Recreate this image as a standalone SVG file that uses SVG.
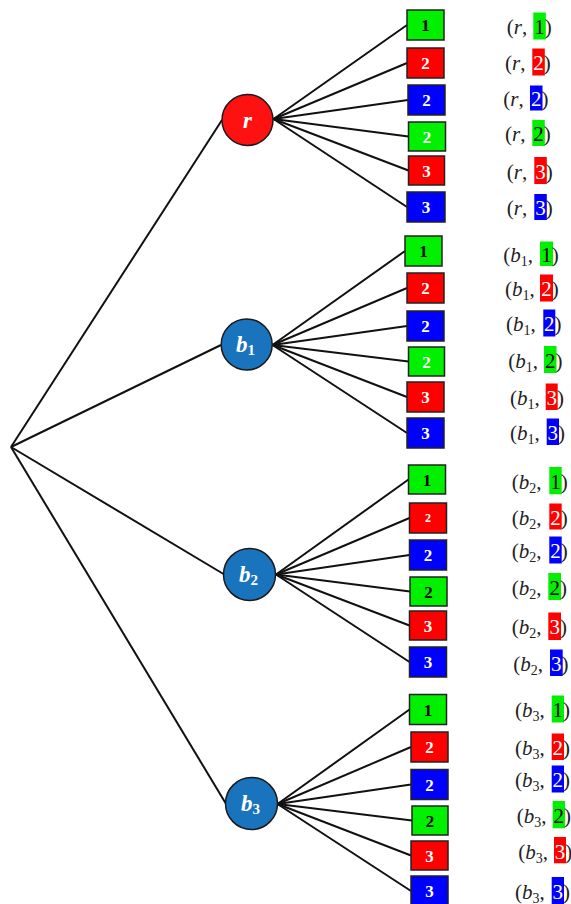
<svg xmlns="http://www.w3.org/2000/svg" width="571" height="904" viewBox="0 0 571 904">
<style>
.bg{fill:#fff}
.ln{stroke:#111;stroke-width:2;fill:none}
.cr{fill:#fe1111;stroke:#1a1a1a;stroke-width:1.5}
.cb{fill:#1a74bd;stroke:#1a1a1a;stroke-width:1.5}
.ct{font-family:"Liberation Serif",serif;font-weight:bold;font-style:italic;font-size:23px;fill:#fff}
.cs{font-style:normal;font-size:15px}
.G{fill:#00f000}
.R{fill:#ff0000}
.B{fill:#0000ff}
.bx{stroke:#222;stroke-width:1.5}
.d{font-family:"Liberation Serif",serif;font-weight:bold;font-size:17px;text-anchor:middle}
.k{fill:#000}
.w{fill:#fff}
.lab{font-family:"Liberation Serif",serif;font-size:21px;fill:#222}
.it{font-style:italic}
.sub{font-size:14px}
.hd{text-anchor:middle}
</style>
<rect class="bg" x="0" y="0" width="571" height="904"/>
<g id="connectors">
<line class="ln" x1="11" y1="447" x2="222" y2="120"/>
<line class="ln" x1="11" y1="447" x2="221" y2="345"/>
<line class="ln" x1="11" y1="447" x2="223.5" y2="574"/>
<line class="ln" x1="11" y1="447" x2="225.5" y2="803"/>
<line class="ln" x1="273.5" y1="119" x2="407" y2="25"/>
<line class="ln" x1="273.5" y1="119" x2="407" y2="63"/>
<line class="ln" x1="273.5" y1="119" x2="408" y2="100"/>
<line class="ln" x1="273.5" y1="119" x2="408.5" y2="136.5"/>
<line class="ln" x1="273.5" y1="119" x2="408.5" y2="170.5"/>
<line class="ln" x1="273.5" y1="119" x2="407" y2="207"/>
<line class="ln" x1="272.5" y1="345" x2="405" y2="251"/>
<line class="ln" x1="272.5" y1="345" x2="407" y2="288"/>
<line class="ln" x1="272.5" y1="345" x2="407" y2="326"/>
<line class="ln" x1="272.5" y1="345" x2="408.5" y2="361.5"/>
<line class="ln" x1="272.5" y1="345" x2="407" y2="397"/>
<line class="ln" x1="272.5" y1="345" x2="407" y2="433"/>
<line class="ln" x1="276" y1="574.5" x2="408.5" y2="479.5"/>
<line class="ln" x1="276" y1="574.5" x2="409.5" y2="518"/>
<line class="ln" x1="276" y1="574.5" x2="409.5" y2="555"/>
<line class="ln" x1="276" y1="574.5" x2="410" y2="591.5"/>
<line class="ln" x1="276" y1="574.5" x2="409.5" y2="625.5"/>
<line class="ln" x1="276" y1="574.5" x2="409.5" y2="662"/>
<line class="ln" x1="277.5" y1="804" x2="409.5" y2="709.5"/>
<line class="ln" x1="277.5" y1="804" x2="411" y2="747"/>
<line class="ln" x1="277.5" y1="804" x2="411" y2="784.5"/>
<line class="ln" x1="277.5" y1="804" x2="412" y2="820.5"/>
<line class="ln" x1="277.5" y1="804" x2="411" y2="855.5"/>
<line class="ln" x1="277.5" y1="804" x2="411" y2="891"/>
</g>
<g id="node-r"><circle class="cr" cx="247.5" cy="120" r="25.5"/><text class="ct hd" x="247.5" y="128">r</text></g>
<g id="node-b1"><circle class="cb" cx="246.7" cy="344.5" r="25.5"/><text class="ct" x="236" y="352">b<tspan class="cs" dy="3">1</tspan></text></g>
<g id="node-b2"><circle class="cb" cx="249.5" cy="574.5" r="26"/><text class="ct" x="239" y="582">b<tspan class="cs" dy="3">2</tspan></text></g>
<g id="node-b3"><circle class="cb" cx="251.5" cy="803.5" r="26"/><text class="ct" x="241" y="811">b<tspan class="cs" dy="3">3</tspan></text></g>

<g id="r-1"><rect class="bx G" x="407" y="10" width="37" height="30"/><text class="d k" x="425.5" y="31">1</text></g>
<g id="r-2r"><rect class="bx R" x="407" y="48" width="37" height="30"/><text class="d w" x="425.5" y="69">2</text></g>
<g id="r-2b"><rect class="bx B" x="408" y="85" width="37" height="30"/><text class="d w" x="426.5" y="106">2</text></g>
<g id="r-2g"><rect class="bx G" x="408.5" y="122" width="37" height="29"/><text class="d w" x="427" y="142.5">2</text></g>
<g id="r-3r"><rect class="bx R" x="408.5" y="156" width="36" height="29"/><text class="d w" x="426.5" y="176.5">3</text></g>
<g id="r-3b"><rect class="bx B" x="407" y="192" width="38" height="30"/><text class="d w" x="426" y="213">3</text></g>

<g id="b1-1"><rect class="bx G" x="405" y="236" width="37" height="30"/><text class="d k" x="423.5" y="257">1</text></g>
<g id="b1-2r"><rect class="bx R" x="407" y="273" width="37" height="30"/><text class="d w" x="425.5" y="294">2</text></g>
<g id="b1-2b"><rect class="bx B" x="407" y="311" width="37" height="30"/><text class="d w" x="425.5" y="332">2</text></g>
<g id="b1-2g"><rect class="bx G" x="408.5" y="347" width="36" height="29"/><text class="d w" x="426.5" y="367.5">2</text></g>
<g id="b1-3r"><rect class="bx R" x="407" y="382" width="37" height="30"/><text class="d w" x="425.5" y="403">3</text></g>
<g id="b1-3b"><rect class="bx B" x="407" y="418" width="37" height="30"/><text class="d w" x="425.5" y="439">3</text></g>

<g id="b2-1"><rect class="bx G" x="408.5" y="465" width="37" height="29"/><text class="d k" x="427" y="485.5">1</text></g>
<g id="b2-2r"><rect class="bx R" x="409.5" y="503" width="37" height="30"/><text class="d w" x="428" y="522" style="font-size:12px">2</text></g>
<g id="b2-2b"><rect class="bx B" x="409.5" y="540" width="37" height="30"/><text class="d w" x="428" y="561">2</text></g>
<g id="b2-2g"><rect class="bx G" x="410" y="577" width="37" height="29"/><text class="d k" x="428.5" y="597.5">2</text></g>
<g id="b2-3r"><rect class="bx R" x="409.5" y="611" width="37" height="29"/><text class="d w" x="428" y="631.5">3</text></g>
<g id="b2-3b"><rect class="bx B" x="409.5" y="647" width="37" height="30"/><text class="d w" x="428" y="668">3</text></g>

<g id="b3-1"><rect class="bx G" x="409.5" y="694.5" width="37" height="30"/><text class="d k" x="428" y="715.5">1</text></g>
<g id="b3-2r"><rect class="bx R" x="411" y="732" width="37" height="30"/><text class="d w" x="429.5" y="753">2</text></g>
<g id="b3-2b"><rect class="bx B" x="411" y="769.5" width="37" height="30"/><text class="d w" x="429.5" y="790.5">2</text></g>
<g id="b3-2g"><rect class="bx G" x="412" y="806" width="36" height="29"/><text class="d k" x="430" y="826.5">2</text></g>
<g id="b3-3r"><rect class="bx R" x="411" y="841" width="37" height="29"/><text class="d w" x="429.5" y="861.5">3</text></g>
<g id="b3-3b"><rect class="bx B" x="411" y="876" width="37" height="30"/><text class="d w" x="429.5" y="897">3</text></g>

<g id="labels-r">
<rect class="G" x="533.3" y="12.5" width="12.5" height="27"/><text class="lab" y="34"><tspan x="506.7">(</tspan><tspan class="it">r</tspan>, <tspan class="k" x="534.3">1</tspan>)</text>
<rect class="R" x="532.3" y="48.5" width="12.5" height="27"/><text class="lab" y="70"><tspan x="505">(</tspan><tspan class="it">r</tspan>, <tspan class="w" x="533.3">2</tspan>)</text>
<rect class="B" x="530" y="85.5" width="12.5" height="25"/><text class="lab" y="106"><tspan x="503.3">(</tspan><tspan class="it">r</tspan>, <tspan class="w" x="531">2</tspan>)</text>
<rect class="G" x="532.3" y="120" width="12.5" height="26"/><text class="lab" y="141"><tspan x="505">(</tspan><tspan class="it">r</tspan>, <tspan class="k" x="533.3">2</tspan>)</text>
<rect class="R" x="534.3" y="157" width="12.5" height="27"/><text class="lab" y="178.5"><tspan x="506.7">(</tspan><tspan class="it">r</tspan>, <tspan class="w" x="535.3">3</tspan>)</text>
<rect class="B" x="534.3" y="194" width="12.5" height="26"/><text class="lab" y="215"><tspan x="506.7">(</tspan><tspan class="it">r</tspan>, <tspan class="w" x="535.3">3</tspan>)</text>
</g>
<g id="labels-b1">
<rect class="G" x="540" y="241.5" width="13" height="24.5"/><text class="lab" y="262"><tspan x="503.3">(</tspan><tspan class="it">b</tspan><tspan class="sub" dy="4">1</tspan><tspan dy="-4">, </tspan><tspan class="k" x="541.2">1</tspan>)</text>
<rect class="R" x="540" y="274.5" width="13" height="27"/><text class="lab" y="296"><tspan x="505">(</tspan><tspan class="it">b</tspan><tspan class="sub" dy="4">1</tspan><tspan dy="-4">, </tspan><tspan class="w" x="541.2">2</tspan>)</text>
<rect class="B" x="543.3" y="309.5" width="12" height="27"/><text class="lab" y="331"><tspan x="506">(</tspan><tspan class="it">b</tspan><tspan class="sub" dy="4">1</tspan><tspan dy="-4">, </tspan><tspan class="w" x="544.1">2</tspan>)</text>
<rect class="G" x="544" y="346" width="12.5" height="27"/><text class="lab" y="367.5"><tspan x="508.3">(</tspan><tspan class="it">b</tspan><tspan class="sub" dy="4">1</tspan><tspan dy="-4">, </tspan><tspan class="k" x="545">2</tspan>)</text>
<rect class="R" x="545.7" y="383.5" width="12" height="26.5"/><text class="lab" y="405"><tspan x="510">(</tspan><tspan class="it">b</tspan><tspan class="sub" dy="4">1</tspan><tspan dy="-4">, </tspan><tspan class="w" x="546.5">3</tspan>)</text>
<rect class="B" x="546.7" y="418.5" width="12.3" height="26.5"/><text class="lab" y="440"><tspan x="510">(</tspan><tspan class="it">b</tspan><tspan class="sub" dy="4">1</tspan><tspan dy="-4">, </tspan><tspan class="w" x="547.6">3</tspan>)</text>
</g>
<g id="labels-b2">
<rect class="G" x="549.3" y="467" width="12.4" height="27.3"/><text class="lab" y="488.5"><tspan x="511.7">(</tspan><tspan class="it">b</tspan><tspan class="sub" dy="4">2</tspan><tspan dy="-4">, </tspan><tspan class="k" x="550.3">1</tspan>)</text>
<rect class="R" x="549.3" y="503.5" width="12.4" height="26"/><text class="lab" y="524.5"><tspan x="511.7">(</tspan><tspan class="it">b</tspan><tspan class="sub" dy="4">2</tspan><tspan dy="-4">, </tspan><tspan class="w" x="550.3">2</tspan>)</text>
<rect class="B" x="549.3" y="536.5" width="12.4" height="27"/><text class="lab" y="558"><tspan x="511.7">(</tspan><tspan class="it">b</tspan><tspan class="sub" dy="4">2</tspan><tspan dy="-4">, </tspan><tspan class="w" x="550.3">2</tspan>)</text>
<rect class="G" x="548.3" y="573" width="12.7" height="27"/><text class="lab" y="594.5"><tspan x="511.7">(</tspan><tspan class="it">b</tspan><tspan class="sub" dy="4">2</tspan><tspan dy="-4">, </tspan><tspan class="k" x="549.4">2</tspan>)</text>
<rect class="R" x="548.3" y="612.5" width="12.7" height="27.5"/><text class="lab" y="634"><tspan x="511.7">(</tspan><tspan class="it">b</tspan><tspan class="sub" dy="4">2</tspan><tspan dy="-4">, </tspan><tspan class="w" x="549.4">3</tspan>)</text>
<rect class="B" x="550" y="649.5" width="12.7" height="26.5"/><text class="lab" y="670.5"><tspan x="513.3">(</tspan><tspan class="it">b</tspan><tspan class="sub" dy="4">2</tspan><tspan dy="-4">, </tspan><tspan class="w" x="551.1">3</tspan>)</text>
</g>
<g id="labels-b3">
<rect class="G" x="551.7" y="695.5" width="12.3" height="27"/><text class="lab" y="717"><tspan x="515">(</tspan><tspan class="it">b</tspan><tspan class="sub" dy="4">3</tspan><tspan dy="-4">, </tspan><tspan class="k" x="552.6">1</tspan>)</text>
<rect class="R" x="551.7" y="733.5" width="12.3" height="26.5"/><text class="lab" y="755"><tspan x="515">(</tspan><tspan class="it">b</tspan><tspan class="sub" dy="4">3</tspan><tspan dy="-4">, </tspan><tspan class="w" x="552.6">2</tspan>)</text>
<rect class="B" x="551.7" y="765.5" width="12.3" height="27"/><text class="lab" y="787"><tspan x="515">(</tspan><tspan class="it">b</tspan><tspan class="sub" dy="4">3</tspan><tspan dy="-4">, </tspan><tspan class="w" x="552.6">2</tspan>)</text>
<rect class="G" x="552.7" y="801" width="12.3" height="27.3"/><text class="lab" y="822.5"><tspan x="516.7">(</tspan><tspan class="it">b</tspan><tspan class="sub" dy="4">3</tspan><tspan dy="-4">, </tspan><tspan class="k" x="553.6">2</tspan>)</text>
<rect class="R" x="554" y="837" width="12" height="26.3"/><text class="lab" y="858.5"><tspan x="518.3">(</tspan><tspan class="it">b</tspan><tspan class="sub" dy="4">3</tspan><tspan dy="-4">, </tspan><tspan class="w" x="554.8">3</tspan>)</text>
<rect class="B" x="551.7" y="877" width="12.3" height="27"/><text class="lab" y="898.5"><tspan x="515">(</tspan><tspan class="it">b</tspan><tspan class="sub" dy="4">3</tspan><tspan dy="-4">, </tspan><tspan class="w" x="552.6">3</tspan>)</text>
</g>
</svg>
